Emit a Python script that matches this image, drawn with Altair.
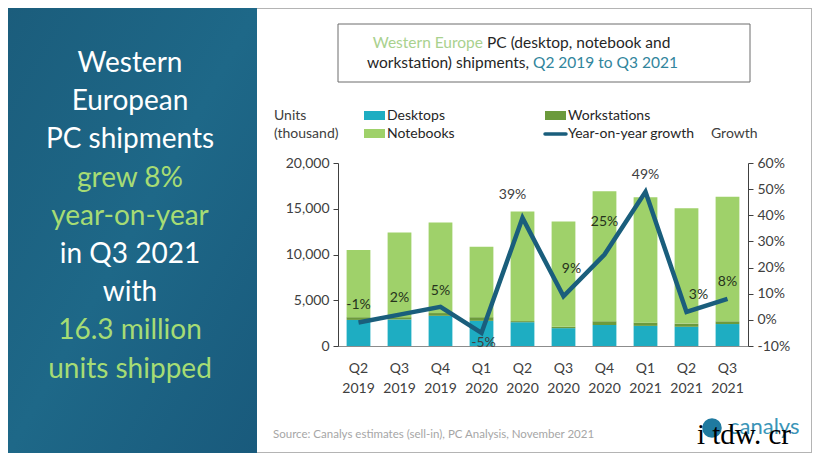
import altair as alt
import pandas as pd

# ---------------- data ----------------
quarters = ["Q2 2019", "Q3 2019", "Q4 2019", "Q1 2020", "Q2 2020",
            "Q3 2020", "Q4 2020", "Q1 2021", "Q2 2021", "Q3 2021"]
desktops = [2850, 2900, 3300, 2750, 2600, 1950, 2300, 2200, 2100, 2400]
workstations = [300, 250, 300, 400, 120, 150, 400, 350, 350, 300]
notebooks = [7350, 9250, 9900, 7700, 11980, 11500, 14200, 13700, 12600, 13600]
growth = [-1, 2, 5, -5, 39, 9, 25, 49, 3, 8]

series_names = ["Desktops", "Workstations", "Notebooks"]
left_axis_ticks = [0, 5000, 10000, 15000, 20000]
right_axis_ticks = [-10, 0, 10, 20, 30, 40, 50, 60]

panel_lines = ["Western", "European", "PC shipments", "grew 8%", "year-on-year",
               "in Q3 2021", "with", "16.3 million", "units shipped"]
panel_green = [False, False, False, True, True, False, False, True, True]
title_parts = ["Western Europe", "PC (desktop, notebook and",
               "workstation) shipments,", "Q2 2019 to Q3 2021"]
units_label = ["Units", "(thousand)"]
growth_label = "Growth"
legend_labels = ["Desktops", "Notebooks", "Workstations", "Year-on-year growth"]
source_text = "Source: Canalys estimates (sell-in), PC Analysis, November 2021"
logo_text = "canalys"
watermark_text = "i tdw. cr"

# ---------------- style ----------------
FONT = "Lato"
C_DESK = "#1eadc2"
C_NOTE = "#9fd16a"
C_WORK = "#6c9a3c"
C_LINE = "#1a5e7c"
C_TEXT = "#404040"
PX, PY = 338, 163  # screen position of plot origin

rows = []
for i, q in enumerate(quarters):
    rows.append({"q": q, "series": "Desktops", "v": desktops[i], "o": 0})
    rows.append({"q": q, "series": "Workstations", "v": workstations[i], "o": 1})
    rows.append({"q": q, "series": "Notebooks", "v": notebooks[i], "o": 2})
bars_df = pd.DataFrame(rows)
growth_df = pd.DataFrame({"q": quarters, "g": growth,
                          "lab": [f"{g}%" for g in growth]})

xenc = alt.X("q:N", sort=quarters,
             scale=alt.Scale(paddingInner=0.42, paddingOuter=0.21),
             axis=alt.Axis(title=None, labelAngle=0, ticks=False, domainColor="#8c8c8c",
                           labelExpr="split(datum.label, ' ')", labelLineHeight=20,
                           labelPadding=15, labelFontSize=14, labelColor=C_TEXT,
                           labelFont=FONT))

bars = alt.Chart(bars_df).mark_bar().encode(
    x=xenc,
    y=alt.Y("v:Q", stack="zero",
            scale=alt.Scale(domain=[0, 20000], nice=False),
            axis=alt.Axis(title=None, values=left_axis_ticks, format=",.0f", grid=False,
                          orient="left", domainColor="#404040", tickColor="#404040",
                          tickSize=5, labelPadding=4, labelFontSize=14,
                          labelOverlap=False, labelColor=C_TEXT, labelFont=FONT)),
    color=alt.Color("series:N", scale=alt.Scale(domain=series_names,
                                                 range=[C_DESK, C_WORK, C_NOTE]),
                    legend=None),
    order=alt.Order("o:Q"),
)

right_axis = alt.Axis(title=None, values=right_axis_ticks, grid=False, orient="right",
                      labelExpr="datum.value + '%'", domainColor="#404040",
                      tickColor="#404040", tickSize=5, labelPadding=4,
                      labelOverlap=False, labelFontSize=14, labelColor=C_TEXT,
                      labelFont=FONT)
gscale = alt.Scale(domain=[-10, 60], nice=False)
gy = alt.Y("g:Q", scale=gscale, axis=right_axis)

line = alt.Chart(growth_df).mark_line(color=C_LINE, strokeWidth=4.5).encode(
    x=alt.X("q:N", sort=quarters), y=gy)

offsets = {
    "Q2 2019": (0, -17, "#26331c"), "Q3 2019": (0, -17, "#26331c"),
    "Q4 2019": (0, -16, "#26331c"), "Q1 2020": (2, 10, "#404040"),
    "Q2 2020": (-10, -23, "#404040"), "Q3 2020": (8, -27, "#26331c"),
    "Q4 2020": (0, -33, "#26331c"), "Q1 2021": (0, -17, "#404040"),
    "Q2 2021": (12, -17, "#26331c"), "Q3 2021": (0, -17, "#26331c"),
}
label_layers = []
for q in quarters:
    dx, dy, col = offsets[q]
    label_layers.append(
        alt.Chart(growth_df).transform_filter(alt.datum.q == q)
        .mark_text(dx=dx, dy=dy, fontSize=14, font=FONT, color=col)
        .encode(x=alt.X("q:N", sort=quarters), y=gy, text="lab:N"))

growth_layer = alt.layer(line, *label_layers)


def txt(s, x, y, size, color, align="left", font=FONT, baseline="middle"):
    return alt.Chart(pd.DataFrame({"t": [s]})).mark_text(
        align=align, baseline=baseline, fontSize=size, color=color, font=font
    ).encode(x=alt.value(x - PX), y=alt.value(y - PY), text="t:N")


def box(x1, y1, x2, y2, **kw):
    return alt.Chart(pd.DataFrame({"a": [0]})).mark_rect(**kw).encode(
        x=alt.value(x1 - PX), x2=alt.value(x2 - PX),
        y=alt.value(y1 - PY), y2=alt.value(y2 - PY))


deco = []
# left panel
deco.append(box(8, 8, 257, 453, color=alt.Gradient(
    gradient="linear", x1=0, y1=0, x2=1, y2=1,
    stops=[alt.GradientStop(offset=0, color="#1b5d7c"),
           alt.GradientStop(offset=0.5, color="#1e6888"),
           alt.GradientStop(offset=1, color="#195a7c")])))
for i, s in enumerate(panel_lines):
    deco.append(txt(s, 130, 64 + i * 38.2, 28,
                    "#a6dc74" if panel_green[i] else "#ffffff", align="center"))
# outer frame lines
deco.append(box(257, 8, 812, 9, color="#b4b4b4"))
deco.append(box(811, 8, 812, 453, color="#b4b4b4"))
deco.append(box(257, 452, 812, 453, color="#b4b4b4"))
# title box
deco.append(box(338, 24, 750, 82, fill="#ffffff", stroke="#6d6d6d", strokeWidth=1))
deco.append(txt(title_parts[0], 483, 43, 15.5, "#a9d18e", align="right"))
deco.append(txt(title_parts[1], 487, 43, 15.5, "#262626"))
deco.append(txt(title_parts[2], 529, 63, 15.5, "#262626", align="right"))
deco.append(txt(title_parts[3], 533, 63, 15.5, "#31859c"))
# axis titles
deco.append(txt(units_label[0], 274, 116, 14, C_TEXT))
deco.append(txt(units_label[1], 274, 134, 14, C_TEXT))
deco.append(txt(growth_label, 711, 134, 14, C_TEXT))
# legend
deco.append(box(364, 111, 385, 120, color=C_DESK))
deco.append(box(364, 129, 385, 138, color=C_NOTE))
deco.append(box(545, 111, 566, 120, color=C_WORK))
deco.append(alt.Chart(pd.DataFrame({"a": [0]})).mark_rule(
    color=C_LINE, strokeWidth=3.5, strokeCap="round").encode(
    x=alt.value(545 - PX), x2=alt.value(566 - PX), y=alt.value(134 - PY)))
deco.append(txt(legend_labels[0], 387, 116, 14, "#262626"))
deco.append(txt(legend_labels[1], 387, 134, 14, "#262626"))
deco.append(txt(legend_labels[2], 568, 116, 14, "#262626"))
deco.append(txt(legend_labels[3], 568, 134, 14, "#262626"))
# source and logo
deco.append(txt(source_text, 273, 435, 11.5, "#a6a6a6"))
deco.append(alt.Chart(pd.DataFrame({"a": [0]})).mark_point(
    shape="circle", filled=True, size=380, color="#1f7aa0", opacity=1).encode(
    x=alt.value(712 - PX), y=alt.value(428 - PY)))
deco.append(txt(logo_text, 729, 434, 22, "#3a95b8", baseline="alphabetic"))
deco.append(txt(watermark_text, 697, 444, 29, "#000000", font="Liberation Serif",
                baseline="alphabetic"))

chart = alt.layer(*deco, bars, growth_layer).resolve_scale(y="independent").properties(
    width=410, height=183,
    autosize=alt.AutoSizeParams(type="none"),
    padding={"left": 330, "top": 155, "right": 64, "bottom": 107},
    background="#ffffff",
).configure_view(stroke=None)

chart.save("out.html", embed_options={"renderer": "svg", "actions": False})
